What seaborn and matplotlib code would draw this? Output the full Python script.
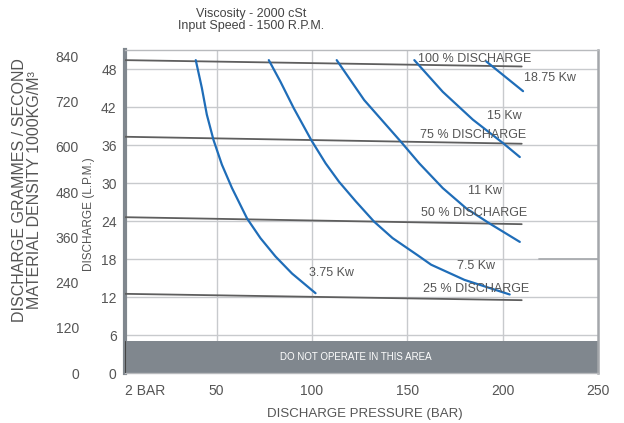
import numpy as np
import pandas as pd
import matplotlib
matplotlib.use("Agg")
import matplotlib.pyplot as plt
import seaborn as sns

# ---- data ----
# power curves: pressure (bar) vs discharge (L/min)
kw_labels = ["3.75 Kw", "7.5 Kw", "11 Kw", "15 Kw", "18.75 Kw"]
p_375 = [39.1, 42.3, 44.9, 48.4, 52.8, 58.1, 66.0, 73.0, 80.9, 89.6, 101.9]
q_375 = [49.4, 45.0, 40.8, 36.8, 32.9, 29.2, 24.4, 21.3, 18.4, 15.7, 12.6]
p_75 = [77.4, 83.5, 90.5, 99.8, 107.2, 114.2, 123.0, 132.6, 142.3, 155.4, 162.5, 180.0, 203.7]
q_75 = [49.4, 46.0, 41.8, 36.7, 33.1, 30.2, 27.1, 23.9, 21.3, 18.6, 17.1, 14.7, 12.4]
p_11 = [113.0, 127.4, 146.7, 156.3, 168.6, 180.9, 193.2, 209.0]
q_11 = [49.4, 43.1, 36.5, 33.1, 29.2, 26.0, 23.6, 20.7]
p_15 = [153.7, 168.6, 184.4, 200.2, 209.0]
q_15 = [49.4, 44.4, 40.0, 36.3, 34.1]
p_1875 = [191.4, 210.7]
q_1875 = [49.2, 44.5]

# % discharge lines (start / end)
pct_labels = ["100 % DISCHARGE", "75 % DISCHARGE", "50 % DISCHARGE", "25 % DISCHARGE"]
pct_p = [2, 210]
pct_q_start = [49.4, 37.3, 24.6, 12.5]
pct_q_end = [48.4, 36.2, 23.5, 11.5]

x_ticks = [2, 50, 100, 150, 200, 250]
x_ticklabels = ["2 BAR", "50", "100", "150", "200", "250"]
y_ticks = [0, 6, 12, 18, 24, 30, 36, 42, 48]
outer_ticks = [0, 120, 240, 360, 480, 600, 720, 840]

# label anchor positions (data coords)
kw_label_pos = [(98.4, 15.8), (176, 16.9), (182, 28.75), (192, 40.6), (211, 46.6)]
pct_label_pos = [(155.8, 49.6), (156.8, 37.6), (157, 25.3), (158, 13.3)]

rows = []
for name, ps, qs in zip(kw_labels, [p_375, p_75, p_11, p_15, p_1875],
                        [q_375, q_75, q_11, q_15, q_1875]):
    for p, q in zip(ps, qs):
        rows.append({"curve": name, "pressure": p, "flow": q})
curves = pd.DataFrame(rows)

pct_rows = []
for name, a, b in zip(pct_labels, pct_q_start, pct_q_end):
    pct_rows.append({"line": name, "pressure": pct_p[0], "flow": a})
    pct_rows.append({"line": name, "pressure": pct_p[1], "flow": b})
pct = pd.DataFrame(pct_rows)

sns.set_style("white")
plt.rcParams["font.family"] = ["Liberation Sans", "DejaVu Sans"]

txt = "#555555"
blue = "#1f6db8"
grid_c = "#c8cacd"
band_c = "#80878e"

fig = plt.figure(figsize=(6.24, 4.23), dpi=100)
ax = fig.add_axes([125 / 624, 1 - 373 / 423, 473 / 624, 323 / 423])

ax.set_xlim(2, 250)
ax.set_ylim(0, 51)

# grid
for x in [50, 100, 150, 200]:
    ax.axvline(x, color=grid_c, lw=1, zorder=0)
for y in y_ticks[1:]:
    ax.axhline(y, color=grid_c, lw=1, zorder=0)
ax.plot([219, 250], [18, 18], color="#a9acb0", lw=1.3, zorder=1)

# do-not-operate band
ax.axhspan(0, 5, color=band_c, zorder=2, lw=0)
ax.plot([2, 2], [0, 5], color="#444444", lw=0.8, zorder=3)
ax.text(123, 2.6, "DO NOT OPERATE IN THIS AREA", color="white", fontsize=7,
        ha="center", va="center", zorder=4)

# % discharge lines
sns.lineplot(data=pct, x="pressure", y="flow", units="line", estimator=None,
             color="#5e5e5e", lw=1.3, sort=False, ax=ax, zorder=3)
# power curves
sns.lineplot(data=curves, x="pressure", y="flow", units="curve", estimator=None,
             color=blue, lw=1.6, sort=False, ax=ax, zorder=4)

for name, (x, y) in zip(pct_labels, pct_label_pos):
    ax.text(x, y, name, fontsize=9, color=txt, ha="left", va="center", zorder=5)
for name, (x, y) in zip(kw_labels, kw_label_pos):
    ax.text(x, y, name, fontsize=9, color=txt, ha="left", va="center", zorder=5)

# spines
ax.spines["left"].set_color(band_c)
ax.spines["left"].set_linewidth(3)
ax.spines["right"].set_color("#a4a7ab")
ax.spines["right"].set_linewidth(1.8)
ax.spines["top"].set_color("#b8babd")
ax.spines["top"].set_linewidth(1)
ax.spines["bottom"].set_color("#b8babd")
ax.spines["bottom"].set_linewidth(1)

ax.set_xticks(x_ticks)
ax.set_xticklabels(x_ticklabels)
ax.set_yticks(y_ticks)
ax.tick_params(axis="both", length=0, labelsize=10, labelcolor=txt)
ax.tick_params(axis="y", pad=6)
ax.tick_params(axis="x", pad=8)
ax.get_xticklabels()[0].set_ha("left")
ax.set_xlabel("")
ax.set_ylabel("")

# outer axis (grammes / second)
sec = ax.secondary_yaxis(-0.08, functions=(lambda y: y * 16.8, lambda y: y / 16.8))
sec.set_yticks(outer_ticks)
sec.spines["left"].set_visible(False)
sec.tick_params(length=0, labelsize=10, labelcolor=txt, pad=6)

fig.text(89 / 624, 1 - 214 / 423, "DISCHARGE (L.P.M.)", rotation=90, fontsize=8.5,
         color=txt, ha="center", va="center")
fig.text(27 / 624, 1 - 190 / 423,
         "DISCHARGE GRAMMES / SECOND\nMATERIAL DENSITY 1000KG/M\u00b3", rotation=90,
         fontsize=11.5, color=txt, ha="center", va="center", linespacing=1.05)
fig.text(365 / 624, 1 - 414 / 423, "DISCHARGE PRESSURE (BAR)", fontsize=9.5,
         color=txt, ha="center", va="center")
fig.text(251 / 624, 1 - 20 / 423, "Viscosity - 2000 cSt\nInput Speed - 1500 R.P.M.",
         fontsize=9, color="#444444", ha="center", va="center", linespacing=0.95)

fig.savefig("out.png", dpi=100)
